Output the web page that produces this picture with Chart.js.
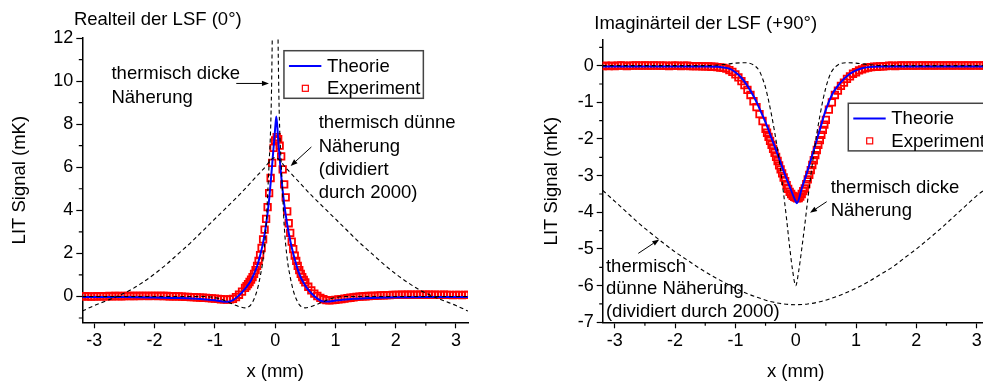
<!DOCTYPE html>
<html>
<head>
<meta charset="utf-8">
<script src="https://cdn.jsdelivr.net/npm/chart.js@4.4.1/dist/chart.umd.min.js"></script>
<style>
  html, body { margin: 0; padding: 0; background: #fff; overflow: hidden; }
  body { width: 983px; height: 385px; position: relative; }
  canvas { position: absolute; top: 0; }
  #re { left: 0; }
  #im { left: 530px; }
</style>
</head>
<body>
<canvas id="re" width="490" height="385"></canvas>
<canvas id="im" width="470" height="385"></canvas>
<script>
// measured positions (mm) shared by both panels
const expX = [
  -3.2, -3.15, -3.1, -3.05, -3.0, -2.95, -2.9, -2.85, -2.8, -2.75,
  -2.7, -2.65, -2.6, -2.55, -2.5, -2.45, -2.4, -2.35, -2.3, -2.25,
  -2.2, -2.15, -2.1, -2.05, -2.0, -1.95, -1.9, -1.85, -1.8, -1.75,
  -1.7, -1.65, -1.6, -1.55, -1.5, -1.45, -1.4, -1.35, -1.3, -1.25,
  -1.2, -1.15, -1.1, -1.05, -1.0, -0.95, -0.9, -0.85, -0.8, -0.75,
  -0.7, -0.65, -0.6, -0.55, -0.5,
  -0.475, -0.45, -0.425, -0.4, -0.375, -0.35, -0.325, -0.3, -0.275, -0.25,
  -0.225, -0.2, -0.175, -0.15, -0.125, -0.1, -0.075, -0.05, -0.025, 0,
  0.025, 0.05, 0.075, 0.1, 0.125, 0.15, 0.175, 0.2, 0.225, 0.25,
  0.275, 0.3, 0.325, 0.35, 0.375, 0.4, 0.425, 0.45, 0.475,
  0.5, 0.55, 0.6, 0.65, 0.7, 0.75, 0.8, 0.85, 0.9, 0.95,
  1.0, 1.05, 1.1, 1.15, 1.2, 1.25, 1.3, 1.35, 1.4, 1.45,
  1.5, 1.55, 1.6, 1.65, 1.7, 1.75, 1.8, 1.85, 1.9, 1.95,
  2.0, 2.05, 2.1, 2.15, 2.2, 2.25, 2.3, 2.35, 2.4, 2.45,
  2.5, 2.55, 2.6, 2.65, 2.7, 2.75, 2.8, 2.85, 2.9, 2.95,
  3.0, 3.05, 3.1, 3.15, 3.2
];

// Realteil, measured (mK)
const reExp = [
  0.00, 0.01, 0.00, -0.01, 0.00, 0.01, 0.01, 0.00, 0.01, 0.02,
  0.01, 0.02, 0.02, 0.01, 0.02, 0.03, 0.02, 0.02, 0.03, 0.02,
  0.03, 0.03, 0.02, 0.03, 0.03, 0.02, 0.03, 0.02, 0.02, 0.01,
  0.01, 0.00, 0.00, -0.01, -0.02, -0.02, -0.03, -0.03, -0.04, -0.05,
  -0.06, -0.07, -0.08, -0.09, -0.10, -0.11, -0.13, -0.14, -0.15, -0.14,
  -0.11, -0.03, 0.08, 0.22, 0.40,
  0.48, 0.57, 0.67, 0.78, 0.90, 1.05, 1.22, 1.42, 1.65, 1.92,
  2.25, 2.65, 3.10, 3.60, 4.15, 4.80, 5.50, 6.20, 6.90, 7.25,
  7.40, 7.30, 7.00, 6.50, 5.90, 5.20, 4.60, 3.95, 3.40, 2.95,
  2.55, 2.20, 1.90, 1.65, 1.42, 1.22, 1.05, 0.90, 0.77,
  0.65, 0.45, 0.28, 0.13, 0.02, -0.07, -0.13, -0.17, -0.18, -0.17,
  -0.16, -0.14, -0.12, -0.10, -0.08, -0.06, -0.04, -0.02, -0.01, 0.00,
  0.01, 0.02, 0.03, 0.03, 0.04, 0.05, 0.05, 0.06, 0.06, 0.07,
  0.07, 0.07, 0.08, 0.07, 0.08, 0.08, 0.07, 0.08, 0.08, 0.07,
  0.08, 0.08, 0.07, 0.08, 0.07, 0.07, 0.08, 0.07, 0.07, 0.06,
  0.07, 0.07, 0.06, 0.07, 0.07
];

// Imaginärteil, measured (mK)
const imExp = [
  -0.01, 0.00, -0.01, 0.00, -0.01, 0.00, 0.01, 0.00, -0.01, 0.00,
  0.00, 0.01, 0.00, 0.00, 0.01, 0.00, 0.00, 0.01, 0.00, 0.00,
  0.00, 0.00, -0.01, 0.00, 0.00, 0.00, -0.01, 0.00, 0.00, -0.01,
  -0.01, -0.01, -0.01, -0.02, -0.02, -0.02, -0.03, -0.03, -0.04, -0.05,
  -0.06, -0.08, -0.12, -0.17, -0.24, -0.32, -0.42, -0.53, -0.66, -0.80,
  -0.97, -1.13, -1.32, -1.51, -1.72,
  -1.83, -1.94, -2.05, -2.16, -2.27, -2.38, -2.49, -2.60, -2.72, -2.83,
  -2.94, -3.05, -3.15, -3.26, -3.36, -3.44, -3.50, -3.55, -3.58, -3.60,
  -3.62, -3.61, -3.57, -3.50, -3.42, -3.35, -3.23, -3.10, -2.98, -2.85,
  -2.71, -2.58, -2.44, -2.30, -2.16, -2.03, -1.89, -1.75, -1.61,
  -1.48, -1.20, -1.00, -0.80, -0.68, -0.55, -0.46, -0.36, -0.29, -0.22,
  -0.18, -0.13, -0.10, -0.07, -0.05, -0.04, -0.03, -0.03, -0.02, -0.02,
  -0.01, 0.00, 0.00, -0.01, 0.00, 0.01, 0.00, 0.00, 0.01, 0.00,
  0.00, 0.01, 0.01, 0.00, 0.01, 0.01, 0.00, 0.01, 0.01, 0.00,
  0.01, 0.01, 0.00, 0.01, 0.01, 0.00, 0.01, 0.01, 0.00, 0.01,
  0.01, 0.00, 0.01, 0.01, 0.00
];

// Realteil, theory
const reTheoX = [-3.2, -2.5, -2, -1.6, -1.3, -1.1, -1, -0.9, -0.8, -0.7, -0.6, -0.5, -0.4, -0.3, -0.25, -0.2, -0.15, -0.1, -0.05, 0, 0.02, 0.05, 0.1, 0.15, 0.2, 0.25, 0.3, 0.4, 0.5, 0.6, 0.7, 0.8, 0.9, 1, 1.1, 1.3, 1.6, 2, 2.5, 3.2];
const reTheoY = [-0.02, -0.03, -0.05, -0.07, -0.11, -0.15, -0.18, -0.22, -0.25, -0.17, 0.05, 0.35, 0.75, 1.4, 1.9, 2.5, 3.35, 4.5, 6.1, 7.8, 8.35, 7.3, 5.6, 4.3, 3.35, 2.6, 2.0, 1.05, 0.5, 0.15, -0.1, -0.24, -0.23, -0.19, -0.16, -0.11, -0.07, -0.04, -0.02, -0.02];

// Realteil, thermally thick approximation
const reThickX = [-3.2, -1.5, -1.2, -1.0, -0.9, -0.8, -0.7, -0.6, -0.5, -0.45, -0.4, -0.35, -0.3, -0.25, -0.2, -0.15, -0.12, -0.1, -0.075, -0.06, -0.047, -0.03, 0, 0.03, 0.047, 0.06, 0.075, 0.1, 0.12, 0.15, 0.2, 0.25, 0.3, 0.35, 0.4, 0.45, 0.5, 0.6, 0.7, 0.8, 0.9, 1.0, 1.2, 1.5, 3.2];
const reThickY = [0, 0, 0, -0.05, -0.12, -0.24, -0.36, -0.47, -0.53, -0.5, -0.38, -0.12, 0.28, 0.9, 1.75, 3.3, 5.0, 6.2, 7.8, 9.6, 12.2, 16, 24, 16, 12.2, 9.6, 7.8, 6.2, 5.0, 3.3, 1.75, 0.9, 0.28, -0.12, -0.38, -0.5, -0.53, -0.47, -0.36, -0.24, -0.12, -0.05, 0, 0, 0];

// Realteil, thermally thin approximation (divided by 2000)
const reThinX = [-3.2, -3, -2.8, -2.6, -2.4, -2.2, -2, -1.8, -1.6, -1.4, -1.2, -1, -0.8, -0.6, -0.4, -0.2, 0, 0.2, 0.4, 0.6, 0.8, 1, 1.2, 1.4, 1.6, 1.8, 2, 2.2, 2.4, 2.6, 2.8, 3, 3.2];
const reThinY = [-0.68, -0.42, -0.2, 0.03, 0.3, 0.65, 1.05, 1.5, 2.0, 2.5, 3.05, 3.6, 4.15, 4.7, 5.3, 5.9, 6.45, 5.9, 5.3, 4.7, 4.15, 3.6, 3.05, 2.5, 2.0, 1.5, 1.05, 0.65, 0.3, 0.03, -0.2, -0.42, -0.68];

// Imaginärteil, theory
const imTheoX = [-3.2, -2, -1.5, -1.3, -1.2, -1.1, -1.0, -0.9, -0.8, -0.7, -0.6, -0.5, -0.4, -0.3, -0.2, -0.1, 0, 0.02, 0.1, 0.2, 0.3, 0.4, 0.5, 0.6, 0.7, 0.8, 0.9, 1.0, 1.1, 1.2, 1.4, 2, 3.2];
const imTheoY = [-0.02, -0.02, -0.02, -0.03, -0.05, -0.08, -0.18, -0.33, -0.55, -0.83, -1.17, -1.55, -1.98, -2.42, -2.88, -3.3, -3.7, -3.75, -3.35, -2.85, -2.3, -1.75, -1.2, -0.8, -0.55, -0.36, -0.22, -0.13, -0.07, -0.04, -0.02, -0.02, -0.02];

// Imaginärteil, thermally thick approximation
const imThickX = [-3.2, -1.5, -1.2, -1.0, -0.85, -0.7, -0.6, -0.55, -0.5, -0.45, -0.4, -0.35, -0.3, -0.25, -0.2, -0.15, -0.1, -0.05, 0, 0.05, 0.1, 0.15, 0.2, 0.25, 0.3, 0.35, 0.4, 0.45, 0.5, 0.55, 0.6, 0.7, 0.85, 1.0, 1.2, 1.5, 3.2];
const imThickY = [0, 0, 0.03, 0.07, 0.08, 0.02, -0.15, -0.35, -0.6, -0.95, -1.35, -1.8, -2.3, -2.85, -3.5, -4.2, -4.95, -5.6, -6.0, -5.6, -5.0, -4.35, -3.65, -3.0, -2.4, -1.85, -1.38, -0.95, -0.6, -0.33, -0.15, 0.02, 0.08, 0.07, 0.03, 0, 0];

// Imaginärteil, thermally thin approximation (divided by 2000)
const imThinX = [-3.2, -3, -2.8, -2.6, -2.4, -2.2, -2, -1.8, -1.6, -1.4, -1.2, -1, -0.8, -0.6, -0.4, -0.2, 0, 0.2, 0.4, 0.6, 0.8, 1, 1.2, 1.4, 1.6, 1.8, 2, 2.2, 2.4, 2.6, 2.8, 3, 3.2];
const imThinY = [-3.4, -3.7, -4.0, -4.3, -4.57, -4.83, -5.08, -5.3, -5.52, -5.72, -5.9, -6.07, -6.22, -6.34, -6.44, -6.5, -6.52, -6.5, -6.44, -6.34, -6.22, -6.07, -5.9, -5.7, -5.5, -5.25, -5.0, -4.73, -4.45, -4.15, -3.85, -3.55, -3.3];

const FAMILY = "'Liberation Sans', Arial, sans-serif";
const tickFont = { family: FAMILY, size: 18 };
const textFont = { family: FAMILY, size: 18.5 };

const pts = (xs, ys) => xs.map((x, i) => ({ x, y: ys[i] }));

function datasets(thickX, thickY, thinX, thinY, theoX, theoY, expY) {
  const dashed = {
    borderColor: '#000', borderWidth: 1.1, borderDash: [4, 3],
    pointRadius: 0, fill: false, cubicInterpolationMode: 'monotone'
  };
  return [
    { label: 'dick', data: pts(thickX, thickY), ...dashed },
    { label: 'dünn', data: pts(thinX, thinY), ...dashed },
    { label: 'Theorie', data: pts(theoX, theoY), borderColor: '#0000ff', borderWidth: 2,
      pointRadius: 0, fill: false, cubicInterpolationMode: 'monotone' },
    { label: 'Experiment', data: pts(expX, expY), showLine: false, pointStyle: 'rect',
      pointRadius: 4.6, borderColor: '#ff0000', borderWidth: 1.8,
      backgroundColor: 'rgba(255,255,255,0)', clip: 0 }
  ];
}

function arrow(ctx, x1, y1, x2, y2) {
  const a = Math.atan2(y2 - y1, x2 - x1), h = 7, w = 2.6;
  const bx = x2 - h * Math.cos(a), by = y2 - h * Math.sin(a);
  ctx.beginPath();
  ctx.moveTo(x1, y1);
  ctx.lineTo(bx, by);
  ctx.stroke();
  ctx.beginPath();
  ctx.moveTo(x2, y2);
  ctx.lineTo(bx + w * Math.sin(a), by - w * Math.cos(a));
  ctx.lineTo(bx - w * Math.sin(a), by + w * Math.cos(a));
  ctx.closePath();
  ctx.fill();
}

// short ticks halfway between the labelled ones
function minorTicks(ctx, scale, len) {
  const t = scale.ticks;
  const step = t[1].value - t[0].value;
  ctx.beginPath();
  for (let v = t[0].value - step / 2; v <= scale.max + 1e-9; v += step) {
    if (v < scale.min) continue;
    const p = scale.getPixelForValue(v);
    if (scale.isHorizontal()) {
      ctx.moveTo(p, scale.top);
      ctx.lineTo(p, scale.top + len);
    } else {
      ctx.moveTo(scale.right, p);
      ctx.lineTo(scale.right - len, p);
    }
  }
  ctx.stroke();
}

const notesPlugin = {
  id: 'notes',
  afterDraw(chart, args, opts) {
    const { ctx, chartArea: area, scales: { x, y } } = chart;
    ctx.save();
    ctx.strokeStyle = '#000';
    ctx.fillStyle = '#000';
    ctx.lineWidth = 1.2;
    minorTicks(ctx, x, 3.5);
    minorTicks(ctx, y, 3.5);

    ctx.font = `${textFont.size}px ${FAMILY}`;
    ctx.textBaseline = 'alphabetic';
    ctx.textAlign = 'left';
    ctx.fillText(opts.title, area.left - 8.4, area.top - opts.titleRise);

    opts.labels.forEach(l => {
      const px = x.getPixelForValue(l.x), py = y.getPixelForValue(l.y);
      l.lines.forEach((t, i) => ctx.fillText(t, px, py + i * l.gap));
    });

    ctx.lineWidth = 1;
    opts.arrows.forEach(a => arrow(ctx,
      x.getPixelForValue(a.x1), y.getPixelForValue(a.y1),
      x.getPixelForValue(a.x2), y.getPixelForValue(a.y2)));

    // legend box for the theory line and the measured squares
    const theo = chart.data.datasets.find(d => d.label === 'Theorie');
    const meas = chart.data.datasets.find(d => d.label === 'Experiment');
    const lx = x.getPixelForValue(opts.legend.x), ly = y.getPixelForValue(opts.legend.y);
    ctx.fillStyle = '#fff';
    ctx.fillRect(lx, ly, 139.4, 47.6);
    ctx.strokeStyle = '#444';
    ctx.lineWidth = 1.5;
    ctx.strokeRect(lx, ly, 139.4, 47.6);
    ctx.strokeStyle = theo.borderColor;
    ctx.lineWidth = theo.borderWidth;
    ctx.beginPath();
    ctx.moveTo(lx + 5, ly + 15.3);
    ctx.lineTo(lx + 37.4, ly + 15.3);
    ctx.stroke();
    ctx.strokeStyle = meas.borderColor;
    ctx.lineWidth = 1.2;
    ctx.strokeRect(lx + 18.4, ly + 34.6, 6, 6);
    ctx.fillStyle = '#000';
    ctx.fillText(theo.label, lx + 43, ly + 21);
    ctx.fillText(meas.label, lx + 43, ly + 43.6);
    ctx.restore();
  }
};

function scales(yMin, yMax, yStep, yWidth, yTitlePad) {
  return {
    x: {
      type: 'linear', min: -3.2, max: 3.2,
      ticks: { stepSize: 1, includeBounds: false, font: tickFont, color: '#000', padding: 2 },
      grid: { drawOnChartArea: false, tickLength: 6, tickColor: '#000', tickWidth: 1.2 },
      border: { color: '#000', width: 1.5 },
      title: { display: true, text: 'x (mm)', font: textFont, color: '#000', padding: { bottom: 2.4 } },
      afterFit: s => { s.height = 62.7; }
    },
    y: {
      type: 'linear', min: yMin, max: yMax,
      ticks: { stepSize: yStep, includeBounds: false, font: tickFont, color: '#000', padding: 3 },
      grid: { drawOnChartArea: false, tickLength: 6, tickColor: '#000', tickWidth: 1.2 },
      border: { color: '#000', width: 1.5 },
      title: { display: true, text: 'LIT Signal (mK)', font: textFont, color: '#000', padding: { top: yTitlePad } },
      afterFit: s => { s.width = yWidth; }
    }
  };
}

const common = {
  responsive: false,
  animation: false,
  events: [],
  plugins: { legend: { display: false }, tooltip: { enabled: false } }
};

new Chart(document.getElementById('re'), {
  type: 'line',
  data: { datasets: datasets(reThickX, reThickY, reThinX, reThinY, reTheoX, reTheoY, reExp) },
  options: {
    ...common,
    layout: { padding: { left: 0, top: 38, right: 22, bottom: 0 } },
    scales: scales(-1.2, 12, 2, 82.3, 9),
    plugins: {
      ...common.plugins,
      notes: {
        title: 'Realteil der LSF (0°)', titleRise: 13,
        labels: [
          { x: -2.716, y: 10.09, gap: 23.7, lines: ['thermisch dicke', 'Näherung'] },
          { x: 0.723, y: 7.81, gap: 23.4, lines: ['thermisch dünne', 'Näherung', '(dividiert', 'durch 2000)'] }
        ],
        arrows: [
          { x1: -0.645, y1: 9.89, x2: -0.103, y2: 9.89 },
          { x1: 0.601, y1: 6.94, x2: 0.257, y2: 6.06 }
        ],
        legend: { x: 0.146, y: 11.41 }
      }
    }
  },
  plugins: [notesPlugin]
});

new Chart(document.getElementById('im'), {
  type: 'line',
  data: { datasets: datasets(imThickX, imThickY, imThinX, imThinY, imTheoX, imTheoY, imExp) },
  options: {
    ...common,
    layout: { padding: { left: 0, top: 40, right: 11.3, bottom: 0 } },
    scales: scales(-7, 0.7, 1, 72.7, 10.5),
    plugins: {
      ...common.plugins,
      notes: {
        title: 'Imaginärteil der LSF (+90°)', titleRise: 10.7,
        labels: [
          { x: 0.58, y: -3.465, gap: 23.3, lines: ['thermisch dicke', 'Näherung'] },
          { x: -3.146, y: -5.62, gap: 22.5, lines: ['thermisch', 'dünne Näherung', '(dividiert durch 2000)'] }
        ],
        arrows: [
          { x1: 0.514, y1: -3.71, x2: 0.237, y2: -4.01 },
          { x1: -2.61, y1: -5.12, x2: -2.262, y2: -4.74 }
        ],
        legend: { x: 0.872, y: -1.026 }
      }
    }
  },
  plugins: [notesPlugin]
});
</script>
</body>
</html>
